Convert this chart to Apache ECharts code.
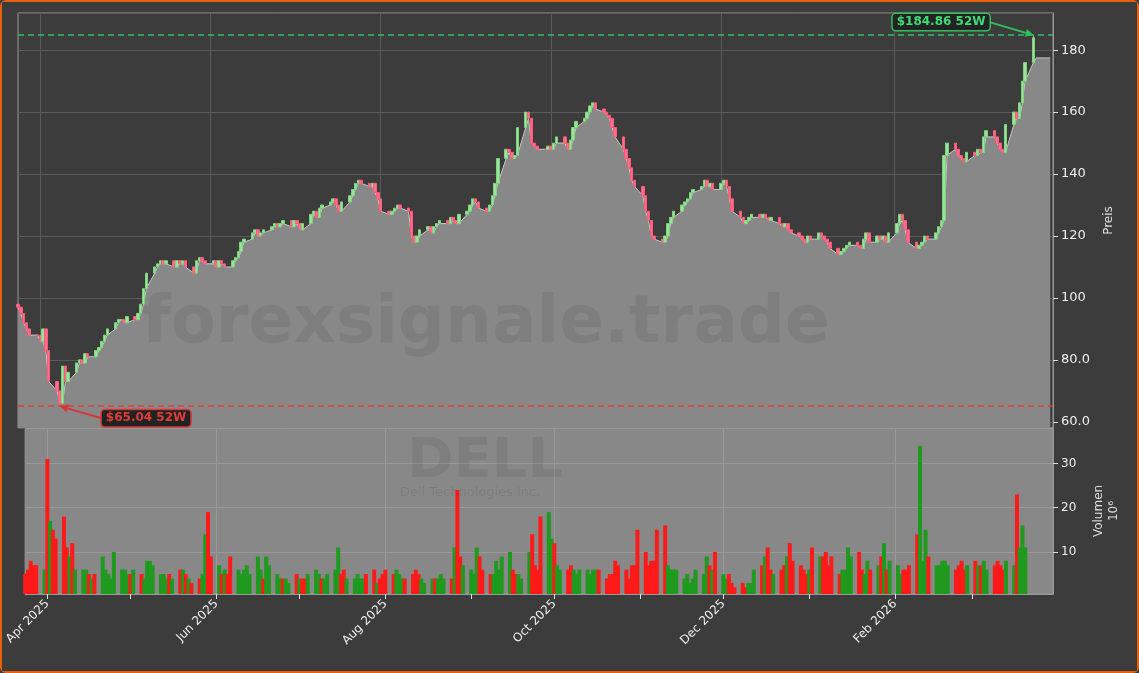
<!DOCTYPE html>
<html><head><meta charset="utf-8">
<script src="https://cdn.jsdelivr.net/npm/echarts@6/dist/echarts.min.js"></script>
<style>html,body{margin:0;padding:0;background:#3c3c3c}
#main{width:1135px;height:669px;border:2px solid #e8600c;border-radius:6px}</style>
</head><body><div id="main"></div>
<script>
var closes = [97,95,92,90,88,88,
  86,90,83,73,70,66,78,73,76,79,80,79,82,81,83,84,86,88,90,92,93,93,
  92,94,93,95,98,103,108,110,111,112,111,112,110,112,111,112,110,108,112,113,112,
  111,112,110,112,111,110,112,113,115,118,119,121,122,120,121,122,123,124,123,124,125,
  123,125,124,122,124,127,128,126,129,130,131,132,130,128,131,133,135,137,138,137,136,137,134,
  132,128,127,128,129,130,129,128,120,118,120,122,123,121,123,124,125,124,126,125,124,
  127,128,130,132,131,129,128,130,133,137,145,148,147,145,146,155,160,158,150,149,148,148,
  149,148,150,152,150,148,151,155,157,158,160,162,163,161,160,159,158,155,152,148,145,142,138,
  136,133,128,125,120,119,118,120,124,126,128,130,131,132,134,135,136,138,136,137,
  135,137,138,136,132,128,126,124,125,126,127,126,127,126,125,126,124,123,124,122,121,120,119,
  118,120,119,121,120,119,118,116,114,115,116,117,118,117,116,119,121,118,120,119,120,118,
  121,124,127,125,122,118,116,117,118,120,119,121,123,125,146,150,148,146,145,144,
  147,146,148,147,152,154,152,150,148,147,156,160,158,163,170,176,184];
var volumes = [5,6,8,7,7,6,
  31,17,15,13,18,11,9,12,6,6,6,5,4,5,9,6,5,4,10,6,6,5,
  5,6,5,4,8,8,7,5,5,4,5,4,6,6,5,4,3,4,5,14,19,9,
  7,5,6,5,9,6,5,6,7,5,9,6,4,9,7,5,4,4,4,3,5,
  4,4,4,5,6,5,4,4,5,6,11,5,6,4,4,5,4,4,5,6,3,4,5,
  6,5,6,5,4,4,5,6,5,4,3,4,4,4,5,4,4,11,24,9,7,
  6,5,11,9,6,5,5,8,6,9,10,6,5,5,4,10,14,7,6,18,19,13,
  12,7,6,6,7,6,5,6,6,5,6,6,6,4,5,5,8,7,6,4,7,7,15,
  10,7,8,8,15,16,7,6,6,6,4,5,3,4,6,5,9,7,6,10,
  5,4,5,3,2,3,2,3,3,6,7,9,11,6,5,6,7,9,12,8,7,6,5,
  6,11,9,9,10,7,9,5,6,6,11,9,10,6,5,8,6,7,9,12,6,8,
  7,5,6,6,7,14,34,8,15,9,7,7,8,8,7,6,7,8,6,7,
  8,7,7,8,6,7,8,7,6,8,7,23,11,16,11];
var low52 = 65.04, high52 = 184.86;

// calendar axis
var days = [], d = new Date(Date.UTC(2025,2,24)), end = new Date(Date.UTC(2026,2,30));
while (d <= end) { days.push(d.toISOString().slice(0,10)); d = new Date(d.getTime()+86400000); }
var months = ['Jan','Feb','Mar','Apr','May','Jun','Jul','Aug','Sep','Oct','Nov','Dec'];

var candle = [], area = [], vol = [], k = 0, lowIdx = 0, highIdx = 0, lastIdx = 0;
days.forEach(function (s, i) {
  var wd = new Date(s+'T00:00:00Z').getUTCDay();
  if (wd === 0 || wd === 6 || k >= closes.length) { candle.push('-'); area.push(null); vol.push(null); return; }
  var c = closes[k], o = k ? closes[k-1] : c + 1;
  var lo = Math.min(o,c), hi = Math.max(o,c);
  if (c === 66) { lo = low52; lowIdx = i; }
  if (k === closes.length-1) { hi = high52; highIdx = i; }
  candle.push([o, c, lo, hi]);
  area.push(Math.min(o,c));
  var v = volumes[k];
  vol.push(v == null ? null : {value: v, itemStyle: {color: c >= o ? '#1f9a1f' : '#ff1a1a'}});
  lastIdx = i; k++;
});
for (var j = lastIdx+1; j < days.length-1; j++) area[j] = 177.5;

var tickFn = function (i, s) { return s.slice(8) === '01'; };
var labelFn = function (i, s) { var m = +s.slice(5,7); return s.slice(8) === '01' && m % 2 === 0; };

var chart = echarts.init(document.getElementById('main'));
chart.setOption({
  backgroundColor: '#3c3c3c', animation: false,
  textStyle: {fontFamily: 'DejaVu Sans'},
  grid: [
    {left: 16, right: 84, top: 11, height: 415, show: true, backgroundColor: '#3c3c3c', borderColor: '#999'},
    {left: 16, right: 84, top: 426, height: 166, show: true, backgroundColor: '#888888', borderColor: '#999'}
  ],
  xAxis: [
    {type: 'category', data: days, gridIndex: 0, boundaryGap: false, axisLabel: {show: false}, axisTick: {show: false}, axisLine: {show: false},
     splitLine: {show: true, interval: labelFn, lineStyle: {color: '#5a5a5a'}}},
    {type: 'category', data: days, gridIndex: 1, boundaryGap: false, axisLine: {lineStyle: {color: '#999'}},
     axisTick: {interval: tickFn, lineStyle: {color: '#ddd'}},
     axisLabel: {interval: labelFn, rotate: 45, color: '#eee', fontSize: 12,
       formatter: function (s) { return months[+s.slice(5,7)-1] + ' ' + s.slice(0,4); }},
     splitLine: {show: true, interval: labelFn, lineStyle: {color: '#999'}}}
  ],
  yAxis: [
    {type: 'value', gridIndex: 0, position: 'right', min: 58, max: 192, splitNumber: 7,
     name: 'Preis', nameLocation: 'middle', nameRotate: 90, nameGap: 50, nameTextStyle: {color: '#ddd', fontSize: 12},
     axisLine: {show: true, lineStyle: {color: '#999'}}, axisTick: {show: true, lineStyle: {color: '#ddd'}},
     axisLabel: {color: '#eee', fontSize: 13, showMinLabel: false, showMaxLabel: false,
       formatter: function (v) { return v < 100 ? v.toFixed(1) : v; }},
     splitLine: {lineStyle: {color: '#5a5a5a'}}},
    {type: 'value', gridIndex: 1, position: 'right', min: 0.5, max: 38, splitNumber: 3,
     name: 'Volumen\n10⁶', nameLocation: 'middle', nameRotate: 90, nameGap: 38, nameTextStyle: {color: '#ddd', fontSize: 12, lineHeight: 15},
     axisLine: {show: true, lineStyle: {color: '#999'}}, axisTick: {show: true, lineStyle: {color: '#ddd'}},
     axisLabel: {color: '#eee', fontSize: 12, showMinLabel: false, showMaxLabel: false},
     splitLine: {lineStyle: {color: '#999'}}}
  ],
  series: [
    {type: 'line', data: area, xAxisIndex: 0, yAxisIndex: 0, connectNulls: true, symbol: 'none',
     lineStyle: {color: '#c8c8c8', width: 1}, areaStyle: {color: '#888888', opacity: 1, origin: 'start'}, z: 1},
    {type: 'candlestick', data: candle, xAxisIndex: 0, yAxisIndex: 0, barWidth: 3,
     itemStyle: {color: '#9be39b', color0: '#ff6d8a', borderColor: '#7ed37e', borderColor0: '#ff5a7a', borderWidth: 1},
     markLine: {symbol: 'none', silent: true, label: {show: false},
       data: [{yAxis: low52, lineStyle: {color: '#e03c3c', type: [6,4], width: 1.5}},
              {yAxis: high52, lineStyle: {color: '#2fbf5f', type: [6,4], width: 1.5}}]}, z: 3},
    {type: 'bar', data: vol, xAxisIndex: 1, yAxisIndex: 1, barWidth: 4}
  ]
});

function note(idx, val, dx, dy, text, fg, border) {
  var p = chart.convertToPixel({xAxisIndex: 0, yAxisIndex: 0}, [days[idx], val]);
  var bx = p[0] + dx, by = p[1] + dy;
  var ang = Math.atan2(p[1] - by, p[0] - bx);
  var tx = p[0] - 8 * Math.cos(ang), ty = p[1] - 8 * Math.sin(ang);
  return [
    {type: 'line', shape: {x1: bx, y1: by, x2: tx, y2: ty}, style: {stroke: border, lineWidth: 2}, z: 20},
    {type: 'polygon', shape: {points: [[p[0], p[1]],
      [tx - 4*Math.sin(ang), ty + 4*Math.cos(ang)], [tx + 4*Math.sin(ang), ty - 4*Math.cos(ang)]]}, style: {fill: border}, z: 20},
    {type: 'text', x: bx, y: by, z: 21, style: {text: text, fill: fg, font: 'bold 12px DejaVu Sans',
      align: dx > 0 ? 'left' : 'right', verticalAlign: 'middle', backgroundColor: '#222', borderColor: border,
      borderWidth: 1.5, borderRadius: 3, padding: [2, 4]}}
  ];
}
var g = [
  {type: 'text', left: 140, top: 290, z: 10, style: {text: 'forexsignale.trade', font: 'bold 66px DejaVu Sans', fill: 'rgba(0,0,0,0.07)'}},
  {type: 'text', left: 405, top: 432, z: 10, style: {text: 'DELL', font: 'bold 56px DejaVu Sans', fill: 'rgba(0,0,0,0.07)'}},
  {type: 'text', left: 398, top: 484, z: 10, style: {text: 'Dell Technologies Inc.', font: '13px DejaVu Sans', fill: 'rgba(0,0,0,0.08)'}}
];
g = g.concat(note(lowIdx, low52, 42, 12, '$65.04 52W', '#e03c3c', '#d93636'));
g = g.concat(note(highIdx, high52, -44, -13, '$184.86 52W', '#3ddc74', '#2fbf5f'));
chart.setOption({graphic: g});
</script></body></html>
